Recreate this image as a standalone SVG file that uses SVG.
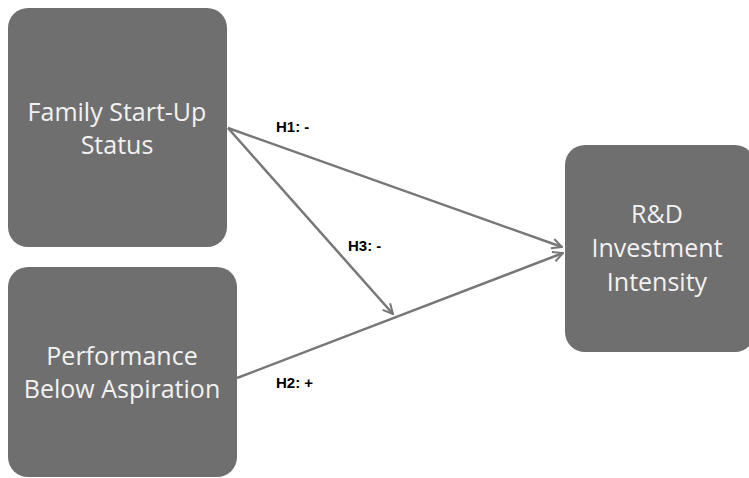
<svg xmlns="http://www.w3.org/2000/svg" width="749" height="478" viewBox="0 0 749 478">
<style>
.box{fill:#6f6f6f;}
.bt{font-family:"Open Sans","Liberation Sans",sans-serif;font-size:25px;fill:#f2f2f2;text-anchor:middle;}
.lbl{font-family:"Liberation Sans",sans-serif;font-size:15px;font-weight:bold;fill:#000;}
.con{stroke:#777;stroke-width:2.5;fill:none;marker-end:url(#ah);}
</style>
<defs>
<marker id="ah" viewBox="0 0 12 12" refX="11" refY="6" markerWidth="12" markerHeight="12" markerUnits="userSpaceOnUse" orient="auto">
<path d="M1,1 L11,6 L1,11" fill="none" stroke="#777" stroke-width="2"/>
</marker>
</defs>
<g id="node-family">
<rect class="box" x="8" y="8" width="219" height="239" rx="20"/>
<text class="bt" x="117" y="121">Family Start-Up</text>
<text class="bt" x="117" y="154">Status</text>
</g>
<g id="node-performance">
<rect class="box" x="8" y="267" width="229" height="210" rx="20"/>
<text class="bt" x="122" y="365">Performance</text>
<text class="bt" x="122" y="398">Below Aspiration</text>
</g>
<g id="node-rd">
<rect class="box" x="565" y="145" width="190" height="207" rx="20"/>
<text class="bt" x="657" y="223">R&amp;D</text>
<text class="bt" x="657" y="257">Investment</text>
<text class="bt" x="657" y="291">Intensity</text>
</g>
<g id="connectors">
<line class="con" x1="228" y1="128" x2="562" y2="247"/>
<line class="con" x1="237" y1="378" x2="563" y2="253"/>
<line class="con" x1="228" y1="128" x2="393" y2="314"/>
<text class="lbl" x="276" y="132">H1: -</text>
<text class="lbl" x="348" y="251">H3: -</text>
<text class="lbl" x="276" y="388">H2: +</text>
</g>
</svg>
